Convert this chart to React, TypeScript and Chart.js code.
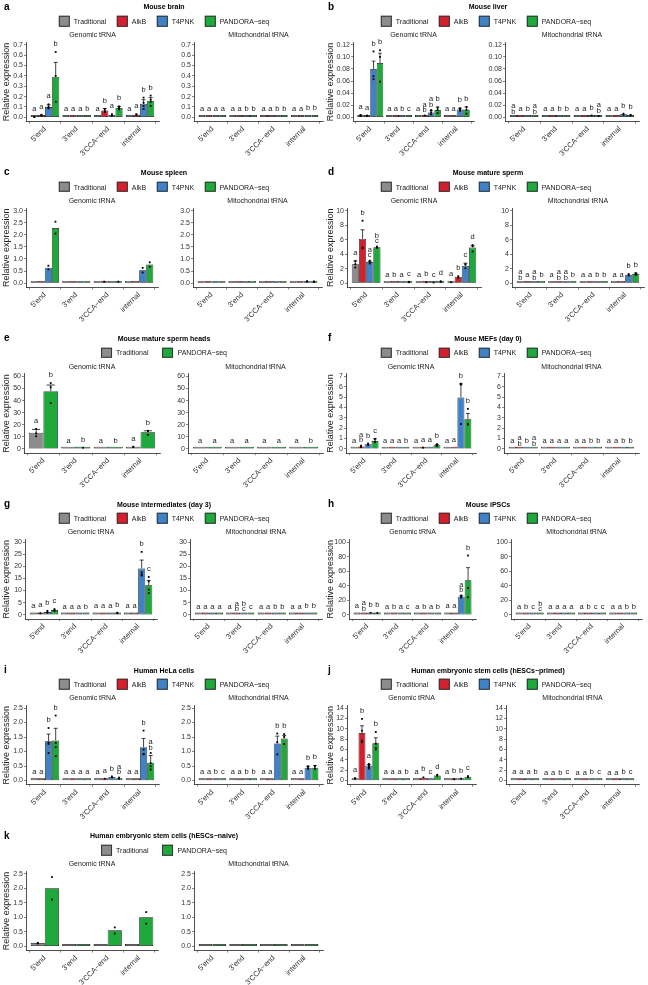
import React, { useEffect, useRef } from 'react';
import { Chart, registerables } from 'chart.js';
Chart.register(...registerables);

const FONT = "'Liberation Sans', Arial, Helvetica, sans-serif";

// ---------- categories / groups ----------
const CATEGORIES = ["5'end", "3'end", "3'CCA\u2212end", "internal"];
const GROUPS_4 = ['Traditional', 'AlkB', 'T4PNK', 'PANDORA\u2212seq'];
const GROUPS_2 = ['Traditional', 'PANDORA\u2212seq'];
const COLOR_OF: Record<string, string> = {
  Traditional: '#8c8c8c',
  AlkB: '#d3202f',
  T4PNK: '#3f82c6',
  'PANDORA\u2212seq': '#1fa83b',
};
const Y_TITLE = 'Relative expression';
const SUB_TITLES = ['Genomic tRNA', 'Mitochondrial tRNA'];

// ---------- data: arrays are [category][group] ----------
// a. Mouse brain
const aGenomicMean = [[0.004, 0.02, 0.1, 0.39], [0.001, 0.001, 0.001, 0.002], [0.004, 0.065, 0.022, 0.09], [0.004, 0.025, 0.13, 0.16]];
const aGenomicSE = [[0.001, 0.004, 0.02, 0.14], [0, 0, 0, 0], [0.001, 0.02, 0.005, 0.015], [0.001, 0.006, 0.04, 0.03]];
const aGenomicPts = [[[0.005, 0.003], [0.025, 0.015, 0.02], [0.125, 0.1, 0.09, 0.085], [0.63, 0.4, 0.15]], [[], [], [], []], [[], [0.08, 0.06, 0.05], [0.03, 0.02, 0.015], [0.105, 0.09, 0.075]], [[], [0.03, 0.025, 0.02], [0.19, 0.14, 0.11, 0.08], [0.21, 0.17, 0.15, 0.11]]];
const aGenomicLetters = [['a', 'a', 'a', 'b'], ['a', 'a', 'a', 'b'], ['a', 'b', 'a', 'b'], ['a', 'a', 'b', 'b']];
const aMitoMean = [[0.001, 0.001, 0.002, 0.002], [0.001, 0.001, 0.002, 0.002], [0.001, 0.001, 0.002, 0.003], [0.001, 0.002, 0.009, 0.009]];
const aMitoLetters = [['a', 'a', 'a', 'a'], ['a', 'a', 'b', 'b'], ['a', 'a', 'b', 'b'], ['a', 'a', 'b', 'b']];

// b. Mouse liver
const bGenomicMean = [[0.003, 0.002, 0.08, 0.09], [0.0005, 0.0005, 0.0005, 0.0005], [0.001, 0.002, 0.008, 0.012], [0.0008, 0.0008, 0.013, 0.013]];
const bGenomicSE = [[0.0005, 0.0003, 0.013, 0.016], [0, 0, 0, 0], [0.0002, 0.0005, 0.003, 0.005], [0.0001, 0.0001, 0.002, 0.004]];
const bGenomicPts = [[[0.004, 0.003, 0.002], [0.003, 0.002], [0.109, 0.068, 0.063], [0.111, 0.1, 0.059]], [[], [], [], []], [[], [0.003], [0.012, 0.008, 0.005], [0.016, 0.012, 0.007]], [[], [], [0.015, 0.013, 0.011], [0.017, 0.012, 0.006]]];
const bGenomicLetters = [['a', 'a', 'b', 'b'], ['a', 'a', 'b', 'c'], ['a', 'ab', 'ab', 'b'], ['a', 'a', 'b', 'b']];
const bMitoMean = [[0.0005, 0.0005, 0.001, 0.001], [0.0003, 0.0003, 0.0005, 0.0005], [0.0005, 0.0005, 0.002, 0.0015], [0.0004, 0.0004, 0.005, 0.003]];
const bMitoSE = [[0, 0, 0, 0], [0, 0, 0, 0], [0, 0, 0.0005, 0.0004], [0, 0, 0.001, 0.0005]];
const bMitoPts = [[[], [], [], []], [[], [], [], []], [[], [], [0.003], [0.002]], [[], [], [0.006, 0.004], [0.004, 0.003]]];
const bMitoLetters = [['ab', 'a', 'b', 'ab'], ['a', 'a', 'b', 'b'], ['a', 'a', 'b', 'ab'], ['a', 'a', 'b', 'b']];

// c. Mouse spleen
const cGenomicMean = [[0.02, 0.04, 0.64, 2.28], [0.005, 0.005, 0.005, 0.005], [0.01, 0.05, 0.02, 0.05], [0.02, 0.03, 0.53, 0.77]];
const cGenomicPts = [[[], [], [0.72, 0.57], [2.54, 2.05]], [[], [], [], []], [[], [0.06], [], [0.06]], [[], [], [0.63, 0.44], [0.86, 0.68]]];
const cMitoMean = [[0.005, 0.005, 0.02, 0.01], [0.003, 0.003, 0.005, 0.005], [0.003, 0.003, 0.01, 0.01], [0.005, 0.005, 0.07, 0.06]];
const cMitoPts = [[[], [], [], []], [[], [], [], []], [[], [], [], []], [[], [], [0.08, 0.06], [0.07, 0.05]]];

// d. Mouse mature sperm
const dGenomicMean = [[2.6, 6.1, 2.9, 4.95], [0.05, 0.05, 0.05, 0.15], [0.03, 0.1, 0.08, 0.2], [0.1, 0.87, 2.4, 4.9]];
const dGenomicSE = [[0.45, 1.25, 0.12, 0.06], [0.01, 0.01, 0.01, 0.02], [0.01, 0.02, 0.01, 0.03], [0.02, 0.1, 0.35, 0.25]];
const dGenomicPts = [[[3.05, 2.6, 2.15], [8.6, 4.9, 4.8], [3.1, 2.9, 2.7], [5.05, 4.95, 4.85]], [[], [], [], [0.18, 0.12]], [[], [0.12], [0.09], [0.25, 0.18]], [[0.12], [0.95, 0.75], [2.6, 2.05, 2.55], [5.1, 4.35, 5.25]]];
const dGenomicLetters = [['a', 'b', 'ac', 'bc'], ['a', 'b', 'a', 'c'], ['a', 'b', 'c', 'd'], ['a', 'b', 'c', 'd']];
const dMitoMean = [[0.02, 0.02, 0.03, 0.03], [0.01, 0.01, 0.01, 0.01], [0.01, 0.01, 0.01, 0.01], [0.02, 0.03, 1.15, 1.25]];
const dMitoSE = [[0, 0, 0, 0], [0, 0, 0, 0], [0, 0, 0, 0], [0, 0, 0.1, 0.12]];
const dMitoPts = [[[], [], [], []], [[], [], [], []], [[], [], [], []], [[], [], [1.25, 1.1, 1.05], [1.38, 1.2, 1.15]]];
const dMitoLetters = [['ab', 'a', 'ab', 'b'], ['a', 'ab', 'ab', 'b'], ['a', 'a', 'b', 'b'], ['a', 'a', 'b', 'b']];

// e. Mouse mature sperm heads (2 groups)
const eGenomicMean = [[13.3, 47.8], [0.2, 0.9], [0.1, 0.2], [1.66, 13.8]];
const eGenomicSE = [[2.8, 5.05], [0.05, 0.1], [0.02, 0.05], [0.3, 1.2]];
const eGenomicPts = [[[16.5, 12.9, 10.5], [54.5, 51, 37.9]], [[], [1.0]], [[], []], [[1.8, 1.5], [14.8, 15, 11.6]]];
const eGenomicLetters = [['a', 'b'], ['a', 'b'], ['a', 'b'], ['a', 'b']];
const eMitoMean = [[0.1, 0.1], [0.05, 0.05], [0.05, 0.05], [0.1, 0.2]];
const eMitoLetters = [['a', 'a'], ['a', 'a'], ['a', 'a'], ['a', 'b']];

// f. Mouse MEFs (day 0)
const fGenomicMean = [[0.02, 0.23, 0.45, 0.77], [0.01, 0.01, 0.01, 0.02], [0.01, 0.1, 0.05, 0.35], [0.02, 0.05, 4.97, 2.87]];
const fGenomicSE = [[0.005, 0.06, 0.05, 0.2], [0, 0, 0, 0], [0.003, 0.02, 0.01, 0.08], [0.005, 0.01, 1.3, 0.55]];
const fGenomicPts = [[[], [0.32, 0.2, 0.17], [0.52, 0.44, 0.39], [0.97, 0.7, 0.64]], [[], [], [], []], [[], [0.12], [], [0.45, 0.3, 0.3]], [[], [], [6.3, 6.2, 2.4], [3.87, 2.4, 2.34]]];
const fGenomicLetters = [['a', 'ab', 'b', 'c'], ['a', 'a', 'a', 'b'], ['a', 'a', 'a', 'b'], ['a', 'a', 'b', 'b']];
const fMitoMean = [[0.01, 0.01, 0.01, 0.01], [0.005, 0.005, 0.005, 0.005], [0.005, 0.005, 0.01, 0.01], [0.005, 0.005, 0.02, 0.02]];
const fMitoLetters = [['a', 'ab', 'b', 'ab'], ['a', 'a', 'a', 'a'], ['a', 'a', 'b', 'b'], ['a', 'a', 'b', 'b']];

// g. Mouse intermediates (day 3)
const gGenomicMean = [[0.2, 0.5, 1.1, 1.9], [0.05, 0.05, 0.05, 0.1], [0.1, 0.2, 0.2, 0.6], [0.2, 0.2, 19.1, 12.2]];
const gGenomicSE = [[0.05, 0.1, 0.3, 0.3], [0, 0, 0, 0], [0.02, 0.03, 0.03, 0.1], [0.03, 0.03, 3.5, 2.0]];
const gGenomicPts = [[[], [0.6], [1.6, 1.2, 0.8], [2.3, 2.0, 1.6]], [[], [], [], []], [[], [], [], [0.8, 0.6]], [[], [], [26, 17.5, 16.6, 16.2], [15.6, 13.8, 10.4, 9.0]]];
const gGenomicLetters = [['a', 'a', 'b', 'c'], ['a', 'a', 'a', 'b'], ['a', 'a', 'a', 'b'], ['a', 'a', 'b', 'c']];
const gMitoMean = [[0.05, 0.05, 0.05, 0.05], [0.03, 0.03, 0.03, 0.03], [0.05, 0.05, 0.1, 0.1], [0.05, 0.05, 0.15, 0.15]];
const gMitoLetters = [['a', 'a', 'a', 'a'], ['a', 'ab', 'bc', 'c'], ['a', 'a', 'b', 'b'], ['a', 'a', 'b', 'b']];

// h. Mouse iPSCs
const hGenomicMean = [[0.5, 0.8, 2, 2], [0.1, 0.1, 0.1, 0.1], [0.2, 0.3, 0.2, 0.3], [0.3, 0.5, 24.9, 47.5]];
const hGenomicSE = [[0.1, 0.2, 0.5, 0.4], [0, 0, 0, 0], [0.05, 0.05, 0.05, 0.05], [0.1, 0.1, 1.2, 17.4]];
const hGenomicPts = [[[], [], [2.6], [2.5]], [[], [], [], []], [[], [], [], []], [[], [], [26.5, 24.5, 23.7], [81.6, 36.9, 24]]];
const hGenomicLetters = [['a', 'ab', 'b', 'b'], ['a', 'b', 'a', 'c'], ['a', 'b', 'a', 'b'], ['a', 'a', 'ab', 'b']];
const hMitoMean = [[0.1, 0.1, 0.1, 0.1], [0.05, 0.05, 0.05, 0.05], [0.05, 0.05, 0.05, 0.05], [0.1, 0.1, 0.3, 0.3]];
const hMitoLetters = [['a', 'b', 'c', 'bc'], ['a', 'a', 'a', 'a'], ['a', 'b', 'c', 'c'], ['a', 'a', 'b', 'b']];

// i. Human HeLa cells
const iGenomicMean = [[0.03, 0.03, 1.35, 1.38], [0.005, 0.005, 0.005, 0.005], [0.03, 0.05, 0.12, 0.08], [0.03, 0.03, 1.15, 0.61]];
const iGenomicSE = [[0.005, 0.005, 0.25, 0.42], [0, 0, 0, 0], [0.005, 0.01, 0.02, 0.02], [0.005, 0.005, 0.3, 0.25]];
const iGenomicPts = [[[], [], [1.81, 1.3, 1.26, 0.95], [2.24, 1.3, 1.15, 0.84]], [[], [], [], []], [[], [0.06], [0.14, 0.11], [0.1, 0.06]], [[], [], [1.72, 1.07, 0.92, 0.9], [0.95, 0.6, 0.49, 0.38]]];
const iGenomicLetters = [['a', 'a', 'b', 'b'], ['a', 'a', 'a', 'a'], ['a', 'a', 'b', 'ab'], ['a', 'a', 'b', 'ab']];
const iMitoMean = [[0.01, 0.01, 0.03, 0.02], [0.005, 0.005, 0.005, 0.005], [0.01, 0.01, 1.28, 1.45], [0.01, 0.01, 0.44, 0.44]];
const iMitoSE = [[0, 0, 0.005, 0.005], [0, 0, 0, 0], [0, 0, 0.25, 0.1], [0, 0, 0.05, 0.08]];
const iMitoPts = [[[], [], [], []], [[], [], [], []], [[], [], [1.62, 1.32, 0.9], [1.6, 1.5, 1.26]], [[], [], [0.49, 0.43, 0.4], [0.5, 0.42, 0.4]]];
const iMitoLetters = [['a', 'a', 'b', 'c'], ['a', 'a', 'b', 'b'], ['a', 'a', 'b', 'b'], ['a', 'a', 'b', 'b']];

// j. Human embryonic stem cells (hESCs-primed)
const jGenomicMean = [[0.39, 9.16, 2.9, 7.2], [0.05, 0.05, 0.05, 0.1], [0.05, 0.52, 0.05, 0.97], [0.1, 0.2, 0.3, 0.71]];
const jGenomicSE = [[0.05, 1.4, 0.2, 1.05], [0, 0, 0, 0], [0.01, 0.08, 0.01, 0.12], [0.02, 0.03, 0.05, 0.12]];
const jGenomicPts = [[[0.45, 0.35], [11.9, 9.6, 7.7, 7.4], [3.2, 2.9, 2.6, 2.3], [9.35, 7.1, 6.3, 6.0]], [[], [], [], []], [[], [0.6], [], [1.1, 0.9]], [[], [0.25], [0.35], [0.85, 0.65]]];
const jGenomicLetters = [['a', 'b', 'a', 'b'], ['a', 'a', 'a', 'b'], ['a', 'b', 'c', 'd'], ['a', 'b', 'b', 'c']];
const jMitoMean = [[0.02, 0.02, 0.02, 0.03], [0.01, 0.01, 0.01, 0.02], [0.01, 0.01, 0.02, 0.03], [0.01, 0.01, 0.02, 0.03]];
const jMitoLetters = [['a', 'a', 'a', 'b'], ['a', 'a', 'b', 'c'], ['a', 'a', 'b', 'c'], ['a', 'a', 'b', 'c']];

// k. Human embryonic stem cells (hESCs-naive) (2 groups)
const kGenomicMean = [[0.11, 2.0], [0.01, 0.02], [0.03, 0.55], [0.03, 1.0]];
const kGenomicPts = [[[0.12, 0.1], [2.39, 1.61]], [[], []], [[], [0.65, 0.44]], [[], [1.18, 0.78]]];
const kMitoMean = [[0.005, 0.01], [0.005, 0.005], [0.005, 0.04], [0.005, 0.02]];

type Sub = { mean: number[][]; se: number[][] | null; pts: number[][][] | null; letters: string[][] | null };
type PanelDef = { tag: string; title: string; groups: string[]; yTop: number; yStep: number; decimals: number; genomic: Sub; mito: Sub };

const PANELS: PanelDef[] = [
  { tag: 'a', title: 'Mouse brain', groups: GROUPS_4, yTop: 0.7, yStep: 0.1, decimals: 1,
    genomic: { mean: aGenomicMean, se: aGenomicSE, pts: aGenomicPts, letters: aGenomicLetters },
    mito: { mean: aMitoMean, se: null, pts: null, letters: aMitoLetters } },
  { tag: 'b', title: 'Mouse liver', groups: GROUPS_4, yTop: 0.12, yStep: 0.02, decimals: 2,
    genomic: { mean: bGenomicMean, se: bGenomicSE, pts: bGenomicPts, letters: bGenomicLetters },
    mito: { mean: bMitoMean, se: bMitoSE, pts: bMitoPts, letters: bMitoLetters } },
  { tag: 'c', title: 'Mouse spleen', groups: GROUPS_4, yTop: 3.0, yStep: 0.5, decimals: 1,
    genomic: { mean: cGenomicMean, se: null, pts: cGenomicPts, letters: null },
    mito: { mean: cMitoMean, se: null, pts: cMitoPts, letters: null } },
  { tag: 'd', title: 'Mouse mature sperm', groups: GROUPS_4, yTop: 10, yStep: 2, decimals: 0,
    genomic: { mean: dGenomicMean, se: dGenomicSE, pts: dGenomicPts, letters: dGenomicLetters },
    mito: { mean: dMitoMean, se: dMitoSE, pts: dMitoPts, letters: dMitoLetters } },
  { tag: 'e', title: 'Mouse mature sperm heads', groups: GROUPS_2, yTop: 60, yStep: 10, decimals: 0,
    genomic: { mean: eGenomicMean, se: eGenomicSE, pts: eGenomicPts, letters: eGenomicLetters },
    mito: { mean: eMitoMean, se: null, pts: null, letters: eMitoLetters } },
  { tag: 'f', title: 'Mouse MEFs (day 0)', groups: GROUPS_4, yTop: 7, yStep: 1, decimals: 0,
    genomic: { mean: fGenomicMean, se: fGenomicSE, pts: fGenomicPts, letters: fGenomicLetters },
    mito: { mean: fMitoMean, se: null, pts: null, letters: fMitoLetters } },
  { tag: 'g', title: 'Mouse intermediates (day 3)', groups: GROUPS_4, yTop: 30, yStep: 5, decimals: 0,
    genomic: { mean: gGenomicMean, se: gGenomicSE, pts: gGenomicPts, letters: gGenomicLetters },
    mito: { mean: gMitoMean, se: null, pts: null, letters: gMitoLetters } },
  { tag: 'h', title: 'Mouse iPSCs', groups: GROUPS_4, yTop: 100, yStep: 20, decimals: 0,
    genomic: { mean: hGenomicMean, se: hGenomicSE, pts: hGenomicPts, letters: hGenomicLetters },
    mito: { mean: hMitoMean, se: null, pts: null, letters: hMitoLetters } },
  { tag: 'i', title: 'Human HeLa cells', groups: GROUPS_4, yTop: 2.5, yStep: 0.5, decimals: 1,
    genomic: { mean: iGenomicMean, se: iGenomicSE, pts: iGenomicPts, letters: iGenomicLetters },
    mito: { mean: iMitoMean, se: iMitoSE, pts: iMitoPts, letters: iMitoLetters } },
  { tag: 'j', title: 'Human embryonic stem cells (hESCs\u2212primed)', groups: GROUPS_4, yTop: 14, yStep: 2, decimals: 0,
    genomic: { mean: jGenomicMean, se: jGenomicSE, pts: jGenomicPts, letters: jGenomicLetters },
    mito: { mean: jMitoMean, se: null, pts: null, letters: jMitoLetters } },
  { tag: 'k', title: 'Human embryonic stem cells (hESCs\u2212naive)', groups: GROUPS_2, yTop: 2.5, yStep: 0.5, decimals: 1,
    genomic: { mean: kGenomicMean, se: null, pts: kGenomicPts, letters: null },
    mito: { mean: kMitoMean, se: null, pts: null, letters: null } },
];

// ---------- layout (pixels) ----------
const PANEL_W = 324;
const ROW_H = 165.8;
const ZERO_OFF = 117.3;      // zero line below panel top
const TICK_SPAN = 72.5;      // zero -> top tick
const ABOVE_TOP = 2.5;
const BELOW_ZERO = 4.3;
const CHART_TOP_OFF = ZERO_OFF - TICK_SPAN - ABOVE_TOP;
const CHART_H = TICK_SPAN + ABOVE_TOP + BELOW_ZERO;
const RIGHT_AXIS_W = 22;
// [left plot x0, left plot x1, right plot x0, right plot x1] relative to panel left
const PANEL_GEOM = [
  [26, 159, 194, 323], [29, 150, 181, 315],
  [26, 158, 193, 322], [23, 157, 188, 320],
  [24, 160, 188, 323], [22, 152, 180, 315],
  [25, 157, 190, 322], [25, 152, 187, 318],
  [26, 159, 194, 323], [23, 152, 182, 315],
  [26, 158, 194, 323],
];

function overlayPlugin(sub: Sub) {
  return {
    id: 'overlay',
    afterDatasetsDraw(chart: any) {
      const ctx = chart.ctx;
      const y = chart.scales.y;
      ctx.save();
      chart.data.datasets.forEach((_: any, gi: number) => {
        const meta = chart.getDatasetMeta(gi);
        meta.data.forEach((bar: any, ci: number) => {
          const m = sub.mean[ci][gi];
          const s = sub.se ? sub.se[ci][gi] : 0;
          const pts = sub.pts ? sub.pts[ci][gi] : [];
          const x = bar.x;
          const w = bar.width;
          if (s > 0) {
            const y0 = y.getPixelForValue(m);
            const y1 = y.getPixelForValue(m + s);
            if (y0 - y1 > 0.8) {
              ctx.strokeStyle = '#111';
              ctx.lineWidth = 0.8;
              ctx.beginPath();
              ctx.moveTo(x, y0);
              ctx.lineTo(x, y1);
              ctx.moveTo(x - w * 0.28, y1);
              ctx.lineTo(x + w * 0.28, y1);
              ctx.stroke();
            }
          }
          ctx.fillStyle = '#000';
          pts.forEach((p) => {
            const py = y.getPixelForValue(p);
            ctx.fillRect(x - 0.9, py - 0.9, 1.8, 1.8);
          });
          if (sub.letters) {
            const top = Math.max(m, m + s, ...pts);
            const yc = y.getPixelForValue(top) - 8;
            const chars = sub.letters[ci][gi].split('');
            ctx.font = `7.5px ${FONT}`;
            ctx.textAlign = 'center';
            ctx.textBaseline = 'middle';
            ctx.fillStyle = '#1a1a1a';
            const lh = 5.6;
            chars.forEach((ch, k) => ctx.fillText(ch, x, yc + (k - (chars.length - 1) / 2) * lh));
          }
        });
      });
      ctx.restore();
    },
  };
}

type SubChartProps = {
  sub: Sub; def: PanelDef; left: number; top: number; width: number; height: number;
  yAxisW: number; padTop: number; xAxisH: number; showYTitle: boolean;
};

function SubChart(props: SubChartProps) {
  const { sub, def, left, top, width, height, yAxisW, padTop, xAxisH, showYTitle } = props;
  const ref = useRef<HTMLCanvasElement>(null);
  useEffect(() => {
    const nCat = CATEGORIES.length;
    const yMin = -def.yTop * (BELOW_ZERO / TICK_SPAN);
    const yMax = def.yTop * (1 + ABOVE_TOP / TICK_SPAN);
    const chart = new Chart(ref.current as HTMLCanvasElement, {
      type: 'bar',
      data: {
        datasets: def.groups.map((g, gi) => ({
          label: g,
          data: CATEGORIES.map((_, ci) => ({ x: ci, y: sub.mean[ci][gi] })),
          backgroundColor: COLOR_OF[g],
          borderColor: '#111',
          borderWidth: 0.7,
          borderSkipped: false,
          minBarLength: 2.2,
          categoryPercentage: 0.9,
          barPercentage: 1,
        })),
      },
      options: {
        responsive: false,
        animation: false,
        events: [],
        layout: { padding: { top: padTop, right: 2, left: 0, bottom: 0 } },
        plugins: { legend: { display: false }, tooltip: { enabled: false }, title: { display: false } },
        scales: {
          x: {
            type: 'linear',
            min: -0.6,
            max: nCat - 1 + 0.6,
            offset: false,
            ticks: {
              stepSize: 1,
              includeBounds: false,
              autoSkip: false,
              maxRotation: 45,
              minRotation: 45,
              padding: 1,
              color: '#333',
              font: { size: 7.5, family: FONT },
              callback: (v: any) => CATEGORIES[Math.round(Number(v))] ?? '',
            },
            grid: { display: true, drawOnChartArea: false, drawTicks: true, tickLength: 2, color: '#333', lineWidth: 0.6 },
            border: { display: true, color: '#222', width: 0.8 },
            afterFit: (s: any) => { s.height = xAxisH; },
          },
          y: {
            min: yMin,
            max: yMax,
            ticks: {
              stepSize: def.yStep,
              includeBounds: false,
              autoSkip: false,
              padding: 1,
              color: '#333',
              font: { size: 7, family: FONT },
              callback: (v: any) => Number(v).toFixed(def.decimals),
            },
            grid: { display: true, drawOnChartArea: false, drawTicks: true, tickLength: 2, color: '#333', lineWidth: 0.6 },
            border: { display: true, color: '#222', width: 0.8 },
            title: showYTitle
              ? { display: true, text: Y_TITLE, color: '#222', font: { size: 9, family: FONT }, padding: { top: 1.5, bottom: 0 } }
              : { display: false },
            afterFit: (s: any) => { s.width = yAxisW; },
          },
        },
      } as any,
      plugins: [overlayPlugin(sub) as any],
    });
    return () => chart.destroy();
  }, []);
  return (
    <canvas
      ref={ref}
      width={width}
      height={height}
      style={{ position: 'absolute', left, top, width, height, display: 'block' }}
    />
  );
}

const GRAY_TEXT = { filter: 'grayscale(100%)' };

function CText({ x, y, text, size, bold, color }: { x: number; y: number; text: string; size: number; bold?: boolean; color?: string }) {
  return (
    <div
      style={{
        position: 'absolute', left: x, top: y, transform: 'translate(-50%, -50%)',
        fontSize: size, lineHeight: 1, fontWeight: bold ? 700 : 400, whiteSpace: 'nowrap',
        color: color || '#1a1a1a', fontFamily: FONT, ...GRAY_TEXT,
      }}
    >
      {text}
    </div>
  );
}

function Panel({ def, index }: { def: PanelDef; index: number }) {
  const row = Math.floor(index / 2);
  const col = index % 2;
  const pl = col * PANEL_W;
  const pt = row * ROW_H;
  const [lx0, lx1, rx0, rx1] = PANEL_GEOM[index];
  const chartTop = pt + CHART_TOP_OFF;
  const canvasTop = Math.floor(chartTop - 6);
  const padTop = chartTop - canvasTop;
  const canvasH = Math.ceil(padTop + CHART_H + 44);
  const xAxisH = canvasH - padTop - CHART_H;
  const legendCx = pl + (col === 0 ? 164 : 162);
  const gap = def.groups.length === 2 ? 14 : 10.5;
  return (
    <>
      <div style={{ position: 'absolute', left: pl + 4, top: pt + 1.6, fontSize: 10, lineHeight: 1, fontWeight: 700, fontFamily: FONT, color: '#000', ...GRAY_TEXT }}>
        {def.tag}
      </div>
      <CText x={pl + 164} y={pt + 6.3} text={def.title} size={7} bold color="#000" />
      <div
        style={{
          position: 'absolute', left: legendCx, top: pt + 21, transform: 'translate(-50%, -50%)',
          display: 'flex', alignItems: 'center', whiteSpace: 'nowrap', fontFamily: FONT, fontSize: 7, lineHeight: 1, color: '#1a1a1a',
        }}
      >
        {def.groups.map((g, gi) => (
          <div key={g} style={{ display: 'flex', alignItems: 'center', marginLeft: gi === 0 ? 0 : gap }}>
            <div style={{ width: 11, height: 10.5, boxSizing: 'border-box', border: '0.8px solid #333', background: COLOR_OF[g] }} />
            <span style={{ marginLeft: 4, ...GRAY_TEXT }}>{g}</span>
          </div>
        ))}
      </div>
      <CText x={pl + (lx0 + lx1) / 2} y={pt + 34} text={SUB_TITLES[0]} size={7} />
      <CText x={pl + (rx0 + rx1) / 2} y={pt + 34} text={SUB_TITLES[1]} size={7} />
      <SubChart
        sub={def.genomic} def={def}
        left={pl} top={canvasTop} width={lx1 + 2} height={canvasH}
        yAxisW={lx0} padTop={padTop} xAxisH={xAxisH} showYTitle={true}
      />
      <SubChart
        sub={def.mito} def={def}
        left={pl + rx0 - RIGHT_AXIS_W} top={canvasTop} width={rx1 - rx0 + RIGHT_AXIS_W + 2} height={canvasH}
        yAxisW={RIGHT_AXIS_W} padTop={padTop} xAxisH={xAxisH} showYTitle={false}
      />
    </>
  );
}

export default function App() {
  useEffect(() => {
    document.body.style.margin = '0';
    document.body.style.background = '#ffffff';
  }, []);
  return (
    <div style={{ position: 'absolute', left: 0, top: 0, width: 648, height: 985, background: '#ffffff', overflow: 'hidden', fontFamily: FONT }}>
      {PANELS.map((p, i) => (
        <Panel key={p.tag} def={p} index={i} />
      ))}
    </div>
  );
}
